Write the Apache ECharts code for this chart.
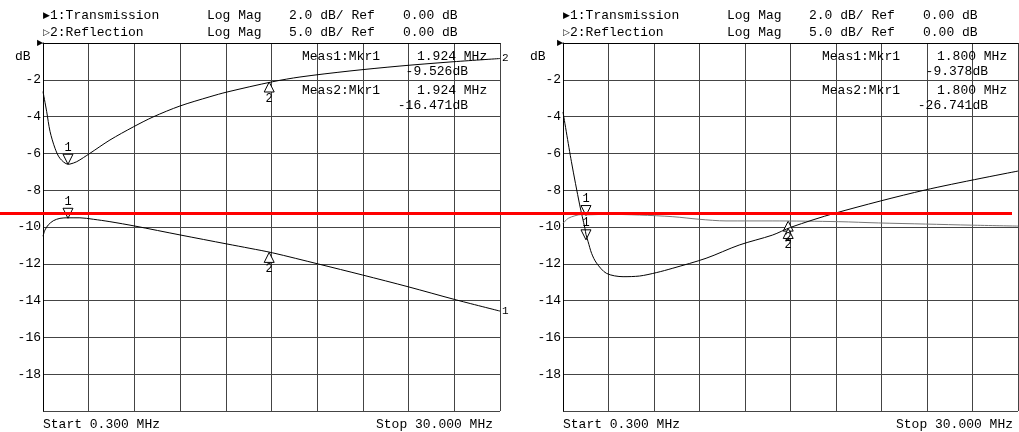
<!DOCTYPE html>
<html>
<head>
<meta charset="utf-8">
<script src="https://cdn.jsdelivr.net/npm/echarts@6/dist/echarts.min.js"></script>
<style>
html,body{margin:0;padding:0;background:#fff;}
#chart{width:1019px;height:432px;}
</style>
</head>
<body>
<div id="chart"></div>
<script>
// ---------------- DATA ----------------
// Left screen: Trace 1 (Transmission, dB), Trace 2 (Reflection, dB)
const leftTransFreq = [0.3, 0.43, 0.64, 0.97, 1.40, 1.924, 2.70, 3.57, 4.65, 6.28, 9.2, 12.24, 13.75, 15.2, 18.19, 21.07, 24.04, 27.01, 30];
const leftTrans     = [-10.5, -10.16, -9.89, -9.66, -9.53, -9.50, -9.50, -9.58, -9.71, -9.95, -10.43, -10.92, -11.16, -11.4, -12.01, -12.61, -13.25, -13.93, -14.57];
const leftReflFreq  = [0.3, 0.54, 0.755, 1.08, 1.40, 1.924, 2.05, 2.49, 3.35, 4.65, 6.17, 7.45, 9.2, 11.15, 12.26, 15.23, 17.0, 20.25, 23.5, 26.75, 30];
const leftRefl      = [-6.6, -9.33, -12.0, -14.3, -15.67, -16.47, -16.45, -16.13, -14.99, -13.18, -11.4, -10.05, -8.56, -7.30, -6.66, -5.26, -4.62, -3.80, -3.13, -2.58, -2.11];

// Right screen
const rightTransFreq = [0.3, 0.64, 1.08, 1.52, 1.8, 3.14, 5.3, 7.47, 9.2, 10.94, 13.95, 18.3, 20.9, 23.96, 26.95, 30];
const rightTrans     = [-9.8, -9.53, -9.39, -9.32, -9.34, -9.31, -9.35, -9.44, -9.58, -9.67, -9.67, -9.71, -9.78, -9.84, -9.9, -9.95];
const rightReflFreq  = [0.3, 0.85, 1.39, 1.73, 1.8, 1.94, 2.17, 2.49, 3.14, 4.22, 5.3, 6.39, 7.47, 9.64, 11.8, 13.97, 15.17, 18.09, 23.94, 30];
const rightRefl      = [-9.37, -16.13, -22.0, -25.18, -26.0, -27.0, -28.6, -29.9, -31.3, -31.75, -31.66, -31.2, -30.6, -29.25, -27.45, -26.1, -25.04, -23.1, -19.97, -17.4];

// Markers [freq, trans dB, refl dB]
const leftMkr1  = [1.924, -9.526, -16.471];
const rightMkr1 = [1.800, -9.378, -26.741];
const mkr2Freq  = 15.0;
const leftMkr2  = [-11.38, -5.3];
const rightMkr2 = [-9.68, -25.2];

// Reference (red) level in dB on trace-1 scale
const redLevel = -9.27;

// Text
const header1 = ['1:Transmission', 'Log Mag', '2.0 dB/ Ref', '0.00 dB'];
const header2 = ['2:Reflection', 'Log Mag', '5.0 dB/ Ref', '0.00 dB'];
const leftMeas  = ['Meas1:Mkr1', '1.924 MHz', '-9.526dB', 'Meas2:Mkr1', '1.924 MHz', '-16.471dB'];
const rightMeas = ['Meas1:Mkr1', '1.800 MHz', '-9.378dB', 'Meas2:Mkr1', '1.800 MHz', '-26.741dB'];
const startLabel = 'Start 0.300 MHz';
const stopLabel  = 'Stop 30.000 MHz';

// ---------------- CHART ----------------
const FONT = '"Liberation Mono", "DejaVu Sans Mono", monospace';
const FS = 13;
const GRIDC = '#444';

const zip = (a, b) => a.map((v, i) => [v, b[i]]);

function txt(x, y, s, align, size, family) {
  return { type: 'text', x: x, y: y, silent: true, z: 50,
    style: { text: s, fill: '#000', fontSize: size || FS, fontFamily: family || FONT,
             align: align || 'left', verticalAlign: 'middle' } };
}

function panelText(dx, meas) {
  const g = [];
  g.push(txt(dx + 43, 16, '\u25B6', 'left', 9, 'DejaVu Sans'));
  g.push(txt(dx + 43, 33, '\u25B7', 'left', 9, 'DejaVu Sans'));
  g.push(txt(dx + 37, 43, '\u25B6', 'left', 8, 'DejaVu Sans'));
  const xs = [50, 207, 289, 403];
  header1.forEach((s, i) => g.push(txt(dx + xs[i], 16, s)));
  header2.forEach((s, i) => g.push(txt(dx + xs[i], 33, s)));
  g.push(txt(dx + 15 + (dx ? -5 : 0), 57, 'dB'));
  g.push(txt(dx + 302, 57, meas[0]));
  g.push(txt(dx + 417, 57, meas[1]));
  g.push(txt(dx + 468, 72, meas[2], 'right'));
  g.push(txt(dx + 302, 91, meas[3]));
  g.push(txt(dx + 417, 91, meas[4]));
  g.push(txt(dx + 468, 106, meas[5], 'right'));
  g.push(txt(dx + 43, 425, startLabel));
  g.push(txt(dx + 493, 425, stopLabel, 'right'));
  return g;
}

const grids = [
  { left: 43, top: 43, width: 457, height: 368 },
  { left: 563, top: 43, width: 455, height: 368 },
  { left: 0, top: 43, width: 1012, height: 368 }
];

function dataX(gi) { return { gridIndex: gi, type: 'value', min: 0.3, max: 30, show: false }; }
function divX(gi) {
  return { gridIndex: gi, type: 'value', min: 0, max: 10, interval: 1,
    axisLine: { show: true, onZero: false, lineStyle: { color: '#000', width: 1 } },
    axisTick: { show: false }, axisLabel: { show: false },
    splitLine: { show: true, lineStyle: { color: GRIDC, width: 1 } } };
}
function transY(gi) {
  return { gridIndex: gi, type: 'value', min: -20, max: 0, interval: 2,
    axisLine: { show: true, onZero: false, lineStyle: { color: '#000', width: 1 } },
    axisTick: { show: false },
    axisLabel: { margin: 2, color: '#000', fontFamily: FONT, fontSize: FS,
      formatter: v => (v === 0 || v === -20) ? '' : String(v) },
    splitLine: { show: true, lineStyle: { color: GRIDC, width: 1 } } };
}
function reflY(gi) { return { gridIndex: gi, type: 'value', min: -50, max: 0, show: false }; }

const downTri = 'path://M0,0 L10,0 L5,10 Z';
function mkDown(coord, label) {
  return { coord: coord, symbol: downTri, symbolSize: [10, 10], symbolOffset: [0, -5],
    itemStyle: { color: '#fff', borderColor: '#000', borderWidth: 1 },
    label: { show: true, position: 'top', distance: 0, formatter: label,
      color: '#000', fontFamily: FONT, fontSize: 12 } };
}
function mkUp(coord, label) {
  return { coord: coord, symbol: 'triangle', symbolSize: [10, 10], symbolOffset: [0, 5],
    itemStyle: { color: '#fff', borderColor: '#000', borderWidth: 1 },
    label: { show: true, position: 'bottom', distance: 0, formatter: label,
      color: '#000', fontFamily: FONT, fontSize: 12 } };
}

function trace(xi, yi, data, color, marks, endLab) {
  const s = { type: 'line', xAxisIndex: xi, yAxisIndex: yi, data: data,
    showSymbol: false, symbol: 'none', smooth: 0.3, clip: false,
    lineStyle: { color: color, width: 1 }, z: 10,
    markPoint: { silent: true, animation: false, data: marks } };
  if (endLab) {
    s.endLabel = { show: true, formatter: endLab, distance: 2, color: '#000',
      fontFamily: FONT, fontSize: 11 };
  }
  return s;
}

const option = {
  animation: false,
  backgroundColor: '#fff',
  grid: grids,
  xAxis: [dataX(0), divX(0), dataX(1), divX(1),
    { gridIndex: 2, type: 'value', min: 0, max: 1, show: false }],
  yAxis: [transY(0), reflY(0), transY(1), reflY(1),
    { gridIndex: 2, type: 'value', min: -20, max: 0, show: false }],
  series: [
    trace(0, 0, zip(leftTransFreq, leftTrans), '#000',
      [mkDown([leftMkr1[0], leftMkr1[1]], '1'), mkUp([mkr2Freq, leftMkr2[0]], '2')], '1'),
    trace(0, 1, zip(leftReflFreq, leftRefl), '#000',
      [mkDown([leftMkr1[0], leftMkr1[2]], '1'), mkUp([mkr2Freq, leftMkr2[1]], '2')], '2'),
    trace(2, 2, zip(rightTransFreq, rightTrans), '#777',
      [mkDown([rightMkr1[0], rightMkr1[1]], '1'), mkUp([mkr2Freq, rightMkr2[0]], '2')], null),
    trace(2, 3, zip(rightReflFreq, rightRefl), '#000',
      [mkDown([rightMkr1[0], rightMkr1[2]], '1'), mkUp([mkr2Freq, rightMkr2[1]], '2')], null),
    { type: 'line', xAxisIndex: 4, yAxisIndex: 4, data: [[0, redLevel], [1, redLevel]],
      showSymbol: false, symbol: 'none', lineStyle: { color: '#ff0000', width: 3 }, z: 20, silent: true }
  ],
  graphic: panelText(0, leftMeas).concat(panelText(520, rightMeas))
};

const chart = echarts.init(document.getElementById('chart'), null, { renderer: 'canvas' });
chart.setOption(option);
</script>
</body>
</html>
